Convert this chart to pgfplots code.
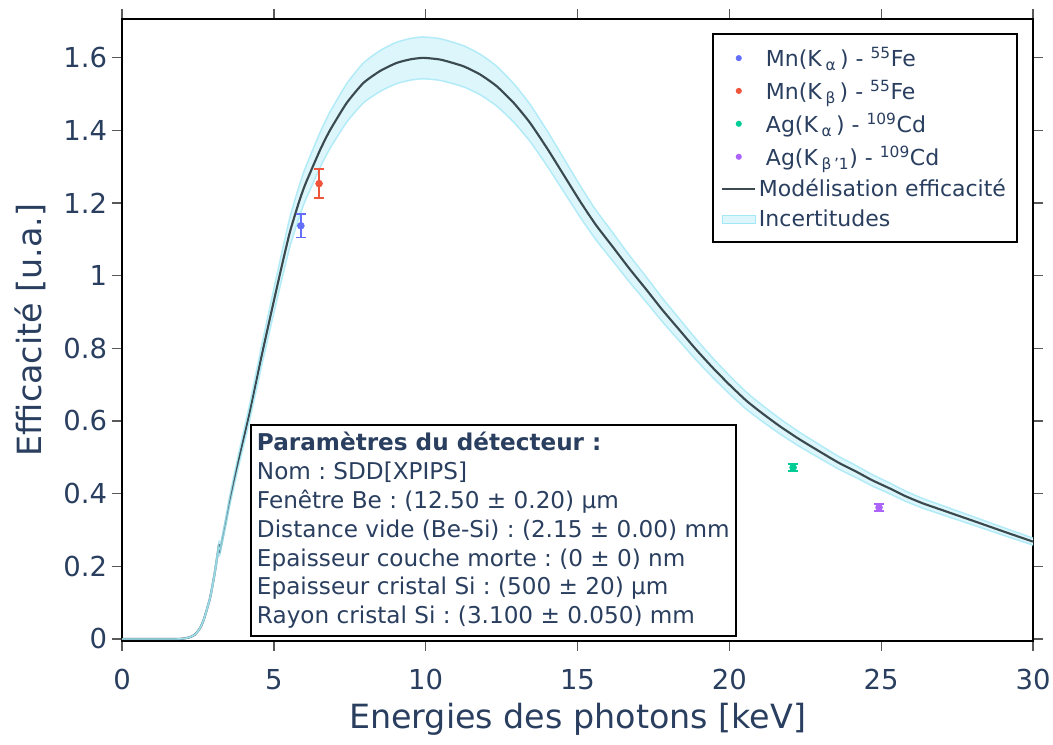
\documentclass[border=0pt]{standalone}
\usepackage{fontspec}
\setmainfont{DejaVu Sans}
\usepackage{pgfplots}
\pgfplotsset{compat=1.18}
\usepackage{pgfplotstable}
\frenchspacing
\definecolor{txt}{HTML}{2A3F5F}
\definecolor{lineC}{HTML}{3B4A4F}
\definecolor{bandF}{HTML}{DCF6FB}
\definecolor{bandE}{HTML}{A3E8F6}
\definecolor{cBlue}{HTML}{636EFA}
\definecolor{cRed}{HTML}{EF553B}
\definecolor{cGreen}{HTML}{00CC96}
\definecolor{cPurple}{HTML}{AB63FA}

\pgfplotstableread{
E y lo hi
0.0 0.000 0.0000 0.0000
1.0 0.000 0.0000 0.0000
1.8 0.000 0.0000 0.0000
2.0 0.001 0.0010 0.0010
2.2 0.004 0.0039 0.0041
2.4 0.012 0.0116 0.0124
2.57 0.030 0.0289 0.0311
2.7 0.055 0.0530 0.0570
2.9 0.113 0.1089 0.1171
3.05 0.180 0.1735 0.1865
3.2 0.262 0.2526 0.2714
3.21 0.236 0.2275 0.2445
3.4 0.315 0.3037 0.3263
3.56 0.385 0.3711 0.3989
3.8 0.478 0.4608 0.4952
4.0 0.550 0.5302 0.5698
4.21 0.626 0.6035 0.6485
4.6 0.780 0.7519 0.8081
5.0 0.930 0.8965 0.9635
5.3 1.040 1.0026 1.0774
5.53 1.120 1.0797 1.1603
5.8 1.195 1.1520 1.2380
6.03 1.250 1.2050 1.2950
6.52 1.345 1.2966 1.3934
6.85 1.400 1.3496 1.4504
7.4 1.475 1.4219 1.5281
7.95 1.530 1.4749 1.5851
8.5 1.563 1.5067 1.6193
9.04 1.585 1.5279 1.6421
9.5 1.595 1.5376 1.6524
9.92 1.599 1.5414 1.6566
10.5 1.594 1.5366 1.6514
11.24 1.576 1.5193 1.6327
11.8 1.553 1.4971 1.6089
12.34 1.521 1.4662 1.5758
12.9 1.475 1.4219 1.5281
13.43 1.421 1.3698 1.4722
14.0 1.350 1.3014 1.3986
14.5 1.283 1.2368 1.3292
15.08 1.205 1.1616 1.2484
15.6 1.140 1.0990 1.1810
16.18 1.077 1.0382 1.1158
16.7 1.020 0.9833 1.0567
17.28 0.960 0.9254 0.9946
17.8 0.905 0.8724 0.9376
18.37 0.849 0.8184 0.8796
18.9 0.797 0.7683 0.8257
19.47 0.745 0.7182 0.7718
20.0 0.700 0.6748 0.7252
20.57 0.655 0.6314 0.6786
21.1 0.620 0.5977 0.6423
21.67 0.585 0.5639 0.6061
22.3 0.550 0.5302 0.5698
23.09 0.510 0.4916 0.5284
23.6 0.485 0.4675 0.5025
24.19 0.460 0.4434 0.4766
24.7 0.437 0.4213 0.4527
25.29 0.414 0.3991 0.4289
25.8 0.393 0.3789 0.4071
26.38 0.373 0.3596 0.3864
27.0 0.355 0.3422 0.3678
27.48 0.341 0.3287 0.3533
28.0 0.326 0.3143 0.3377
28.58 0.309 0.2979 0.3201
29.3 0.288 0.2776 0.2984
30.0 0.268 0.2584 0.2776
}\curve

% uncertainty band as a closed polygon: upper edge forward, lower edge backward
\pgfplotstableread{
E v
0.0 0.0000
1.8 0.0000
2.0 0.0010
2.2 0.0041
2.4 0.0124
2.57 0.0311
2.7 0.0570
2.9 0.1171
3.05 0.1865
3.2 0.2714
3.21 0.2445
3.4 0.3263
3.56 0.3989
3.8 0.4952
4.0 0.5698
4.21 0.6485
4.6 0.8081
5.0 0.9635
5.3 1.0774
5.53 1.1603
5.8 1.2380
6.03 1.2950
6.52 1.3934
6.85 1.4504
7.4 1.5281
7.95 1.5851
8.5 1.6193
9.04 1.6421
9.5 1.6524
9.92 1.6566
10.5 1.6514
11.24 1.6327
11.8 1.6089
12.34 1.5758
12.9 1.5281
13.43 1.4722
14.0 1.3986
14.5 1.3292
15.08 1.2484
15.6 1.1810
16.18 1.1158
16.7 1.0567
17.28 0.9946
17.8 0.9376
18.37 0.8796
18.9 0.8257
19.47 0.7718
20.0 0.7252
20.57 0.6786
21.1 0.6423
21.67 0.6061
22.3 0.5698
23.09 0.5284
23.6 0.5025
24.19 0.4766
24.7 0.4527
25.29 0.4289
25.8 0.4071
26.38 0.3864
27.0 0.3678
27.48 0.3533
28.0 0.3377
28.58 0.3201
29.3 0.2984
30.0 0.2776
30.0 0.2584
29.3 0.2776
28.58 0.2979
28.0 0.3143
27.48 0.3287
27.0 0.3422
26.38 0.3596
25.8 0.3789
25.29 0.3991
24.7 0.4213
24.19 0.4434
23.6 0.4675
23.09 0.4916
22.3 0.5302
21.67 0.5639
21.1 0.5977
20.57 0.6314
20.0 0.6748
19.47 0.7182
18.9 0.7683
18.37 0.8184
17.8 0.8724
17.28 0.9254
16.7 0.9833
16.18 1.0382
15.6 1.0990
15.08 1.1616
14.5 1.2368
14.0 1.3014
13.43 1.3698
12.9 1.4219
12.34 1.4662
11.8 1.4971
11.24 1.5193
10.5 1.5366
9.92 1.5414
9.5 1.5376
9.04 1.5279
8.5 1.5067
7.95 1.4749
7.4 1.4219
6.85 1.3496
6.52 1.2966
6.03 1.2050
5.8 1.1520
5.53 1.0797
5.3 1.0026
5.0 0.8965
4.6 0.7519
4.21 0.6035
4.0 0.5302
3.8 0.4608
3.56 0.3711
3.4 0.3037
3.21 0.2275
3.2 0.2526
3.05 0.1735
2.9 0.1089
2.7 0.0530
2.57 0.0289
2.4 0.0116
2.2 0.0039
2.0 0.0010
1.8 0.0000
0.0 0.0000
}\band

\begin{document}
\begin{tikzpicture}
\useasboundingbox (-91.5pt,-78pt) rectangle (698.25pt,480.75pt);
\begin{axis}[
  scale only axis, width=683.25pt, height=466.5pt,
  xmin=0, xmax=30, ymin=-0.0055, ymax=1.706,
  xtick={0,5,10,15,20,25,30},
  xticklabels={0,5,10,15,20,25,30},
  ytick={0,0.2,0.4,0.6,0.8,1,1.2,1.4,1.6},
  yticklabels={0,0.2,0.4,0.6,0.8,1,1.2,1.4,1.6},
  tick align=outside, major tick length=7.5pt,
  tick style={color=black!65, line width=1pt},
  axis line style={black, line width=1.5pt},
  ticklabel style={font=\fontsize{20.6}{22}\selectfont, text=txt},
  xticklabel style={yshift=-10pt},
  yticklabel style={inner xsep=3.5pt},
  xlabel={Energies des photons [keV]},
  ylabel={Efficacité [u.a.]},
  label style={font=\fontsize{25}{28}\selectfont, text=txt},
  xlabel style={at={(axis description cs:0.5,-0.1265)}, anchor=center},
  ylabel style={at={(axis description cs:-0.101,0.5)}, anchor=center},
  legend style={at={(rel axis cs:0.9835,0.9775)}, anchor=north east,
    draw=black, line width=1.5pt, fill=white,
    font=\fontsize{16.5}{20}\selectfont, text=txt,
    inner xsep=6.25pt, inner ysep=8pt, row sep=4.4pt},
  legend cell align=left,
]
\addplot[fill=bandF, draw=none, forget plot, smooth, tension=0.35] table[x=E, y=v] {\band};
% model curve, in two pieces on either side of the edge at 3.2 keV
\addplot[lineC, line width=1.6pt, forget plot, smooth, tension=0.35,
  skip coords between index={11}{200}] table[x=E, y=y] {\curve};
\addplot[lineC, line width=1.6pt, forget plot, smooth, tension=0.35,
  skip coords between index={0}{11}] table[x=E, y=y] {\curve};
\addplot[bandE, line width=1.1pt, opacity=0.8, forget plot, smooth, tension=0.35,
  skip coords between index={11}{200}] table[x=E, y=hi] {\curve};
\addplot[bandE, line width=1.1pt, opacity=0.8, forget plot, smooth, tension=0.35,
  skip coords between index={0}{11}] table[x=E, y=hi] {\curve};
\addplot[bandE, line width=1.1pt, opacity=0.8, forget plot, smooth, tension=0.35,
  skip coords between index={11}{200}] table[x=E, y=lo] {\curve};
\addplot[bandE, line width=1.1pt, opacity=0.8, forget plot, smooth, tension=0.35,
  skip coords between index={0}{11}] table[x=E, y=lo] {\curve};

\addplot[cBlue, only marks, mark=*, mark size=2.6pt, forget plot,
  error bars/.cd, y dir=both, y explicit,
  error bar style={line width=1.2pt, cBlue},
  error mark options={cBlue, line width=1.2pt, mark size=3.75pt, rotate=90}]
  coordinates {(5.89,1.137) +- (0,0.032)};
\addplot[cRed, only marks, mark=*, mark size=2.6pt, forget plot,
  error bars/.cd, y dir=both, y explicit,
  error bar style={line width=1.2pt, cRed},
  error mark options={cRed, line width=1.2pt, mark size=3.75pt, rotate=90}]
  coordinates {(6.49,1.253) +- (0,0.040)};
\addplot[cGreen, only marks, mark=*, mark size=2.6pt, forget plot,
  error bars/.cd, y dir=both, y explicit,
  error bar style={line width=1.2pt, cGreen},
  error mark options={cGreen, line width=1.2pt, mark size=3.75pt, rotate=90}]
  coordinates {(22.10,0.472) +- (0,0.010)};
\addplot[cPurple, only marks, mark=*, mark size=2.6pt, forget plot,
  error bars/.cd, y dir=both, y explicit,
  error bar style={line width=1.2pt, cPurple},
  error mark options={cPurple, line width=1.2pt, mark size=3.75pt, rotate=90}]
  coordinates {(24.93,0.362) +- (0,0.010)};

\addlegendimage{legend image code/.code={\fill[draw=none, fill=cBlue] (12.4pt,0pt) circle (2.3pt); \path[draw=none, fill=none] (0pt,0pt) -- (24.75pt,0pt);}}
\addlegendentry{\ Mn(K\,\textsubscript{α}\,) - \textsuperscript{55}Fe}
\addlegendimage{legend image code/.code={\fill[draw=none, fill=cRed] (12.4pt,0pt) circle (2.3pt); \path[draw=none, fill=none] (0pt,0pt) -- (24.75pt,0pt);}}
\addlegendentry{\ Mn(K\,\textsubscript{β}\,) - \textsuperscript{55}Fe}
\addlegendimage{legend image code/.code={\fill[draw=none, fill=cGreen] (12.4pt,0pt) circle (2.3pt); \path[draw=none, fill=none] (0pt,0pt) -- (24.75pt,0pt);}}
\addlegendentry{\ Ag(K\,\textsubscript{α}\,) - \textsuperscript{109}Cd}
\addlegendimage{legend image code/.code={\fill[draw=none, fill=cPurple] (12.4pt,0pt) circle (2.3pt); \path[draw=none, fill=none] (0pt,0pt) -- (24.75pt,0pt);}}
\addlegendentry{\ Ag(K\,\textsubscript{β\,'1}) - \textsuperscript{109}Cd}
\addlegendimage{legend image code/.code={\draw[lineC, line width=1.6pt] (0pt,0pt) -- (24.75pt,0pt);}}
\addlegendentry{Modélisation efficacité}
\addlegendimage{legend image code/.code={\fill[fill=bandF, draw=bandE, line width=0.8pt] (0pt,-3pt) rectangle (24.75pt,3pt);}}
\addlegendentry{Incertitudes}

\node[draw=black, line width=1.5pt, fill=white, anchor=north west,
  inner xsep=4.5pt, inner ysep=5.5pt, align=left, text=txt,
  font=\fontsize{17.35}{21.6}\selectfont]
  at (rel axis cs:0.1405,0.3489)
  {\textbf{Paramètres du détecteur :}\\
   Nom : SDD[XPIPS]\\
   Fenêtre Be : (12.50 ± 0.20) µm\\
   Distance vide (Be-Si) : (2.15 ± 0.00) mm\\
   Epaisseur couche morte : (0 ± 0) nm\\
   Epaisseur cristal Si : (500 ± 20) µm\\
   Rayon cristal Si : (3.100 ± 0.050) mm};
\end{axis}
\end{tikzpicture}
\end{document}
